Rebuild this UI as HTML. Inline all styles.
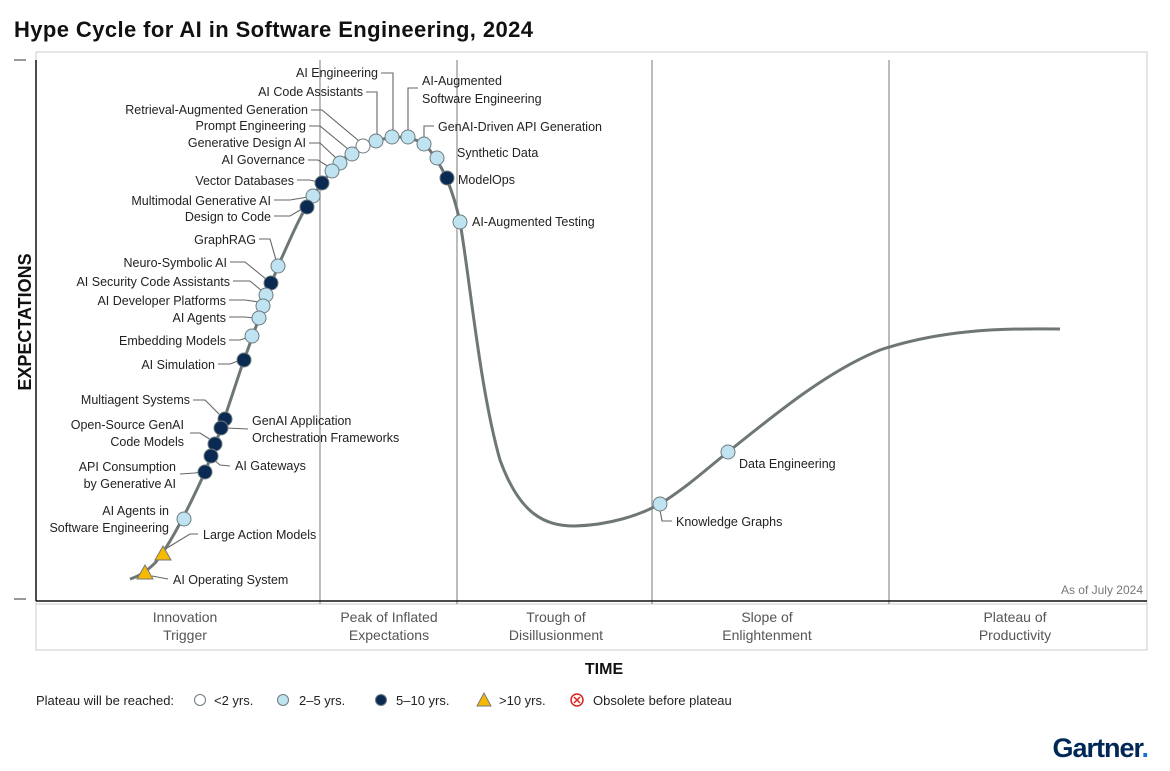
<!DOCTYPE html>
<html><head><meta charset="utf-8"><style>
html,body{margin:0;padding:0;background:#fff;width:1170px;height:771px;overflow:hidden}
svg{display:block}
text{font-family:"Liberation Sans",sans-serif;fill:#222;font-size:12.5px}
.l{fill:#bfe3f1;stroke:#6e7b80;stroke-width:1}
.d{fill:#0b2a52;stroke:#6e7b80;stroke-width:1}
.w{fill:#fff;stroke:#6e7b80;stroke-width:1}
.ld{fill:none;stroke:#666;stroke-width:1.1}
.ph{fill:#555;font-size:14px}
</style></head><body>
<svg width="1170" height="771" viewBox="0 0 1170 771">
<text x="14" y="37" style="font-size:22px;font-weight:bold;fill:#111" textLength="519">Hype Cycle for AI in Software Engineering, 2024</text>
<rect x="36" y="52" width="1111" height="598" fill="none" stroke="#ccc"/>
<line x1="36" y1="604" x2="1147" y2="604" stroke="#ccc"/>
<g stroke="#999" stroke-width="1.3">
<line x1="320" y1="60" x2="320" y2="604"/><line x1="457" y1="60" x2="457" y2="604"/>
<line x1="652" y1="60" x2="652" y2="604"/><line x1="889" y1="60" x2="889" y2="604"/>
</g>
<line x1="36" y1="60" x2="36" y2="601" stroke="#111" stroke-width="1.5"/>
<line x1="36" y1="601" x2="1147" y2="601" stroke="#111" stroke-width="1.5"/>
<line x1="14" y1="60" x2="26" y2="60" stroke="#333"/><line x1="14" y1="599" x2="26" y2="599" stroke="#333"/>
<text transform="translate(31,322) rotate(-90)" text-anchor="middle" style="font-size:18px;font-weight:bold;fill:#111">EXPECTATIONS</text>
<text x="604" y="674" text-anchor="middle" style="font-size:16px;font-weight:bold;fill:#111">TIME</text>
<text class="ph" x="185" y="622" text-anchor="middle">Innovation</text><text class="ph" x="185" y="640" text-anchor="middle">Trigger</text>
<text class="ph" x="389" y="622" text-anchor="middle">Peak of Inflated</text><text class="ph" x="389" y="640" text-anchor="middle">Expectations</text>
<text class="ph" x="556" y="622" text-anchor="middle">Trough of</text><text class="ph" x="556" y="640" text-anchor="middle">Disillusionment</text>
<text class="ph" x="767" y="622" text-anchor="middle">Slope of</text><text class="ph" x="767" y="640" text-anchor="middle">Enlightenment</text>
<text class="ph" x="1015" y="622" text-anchor="middle">Plateau of</text><text class="ph" x="1015" y="640" text-anchor="middle">Productivity</text>
<text x="1143" y="594" text-anchor="end" style="fill:#777;font-size:12px">As of July 2024</text>

<path d="M130,579 C140,576 148,570 155,563 C170,545 190,505 205,472 C225,420 235,385 244,360 C255,330 265,300 278,266 C290,240 300,215 313,196 C330,170 350,148 376,141 C395,135 415,135 428,148 C440,162 452,185 460,222 C470,280 480,390 500,460 C520,515 545,526 575,526 C610,525 640,515 660,504 C690,485 710,466 728,452 C780,410 830,370 880,350 C940,330 1000,328 1060,329" fill="none" stroke="#6e7676" stroke-width="3"/>

<g class="ld">
<polyline points="381,73 393,73 393,131"/>
<polyline points="366,92 377,92 377,135"/>
<polyline points="418,88 408,88 408,131"/>
<polyline points="311,110 322,110 359,141"/>
<polyline points="309,126 320,126 348,149"/>
<polyline points="309,143 320,143 336,158"/>
<polyline points="308,160 318,160 329,167"/>
<polyline points="297,180 310,180 318,182"/>
<polyline points="274,200 290,200 308,197"/>
<polyline points="274,216 290,216 302,209"/>
<polyline points="259,239 270,239 276,260"/>
<polyline points="230,262 245,262 266,279"/>
<polyline points="233,281 250,281 262,291"/>
<polyline points="229,300 245,300 259,302"/>
<polyline points="229,317 245,317 254,318"/>
<polyline points="229,340 240,340 246,338"/>
<polyline points="218,364 230,364 238,361"/>
<polyline points="193,400 205,400 220,415"/>
<polyline points="248,429 226,428"/>
<polyline points="190,433 200,433 211,440"/>
<polyline points="230,466 220,465 214,460"/>
<polyline points="180,474 195,473 200,472"/>
<polyline points="198,534 190,534 167,548"/>
<polyline points="168,579 152,576"/>
<polyline points="434,126 424,126 424,137"/>
<polyline points="660,510 662,521 672,521"/>
</g>

<g>
<circle class="w" cx="363" cy="146" r="7"/>
<circle class="l" cx="376" cy="141" r="7"/>
<circle class="l" cx="392" cy="137" r="7"/>
<circle class="l" cx="408" cy="137" r="7"/>
<circle class="l" cx="424" cy="144" r="7"/>
<circle class="l" cx="437" cy="158" r="7"/>
<circle class="d" cx="447" cy="178" r="7"/>
<circle class="l" cx="460" cy="222" r="7"/>
<circle class="l" cx="352" cy="154" r="7"/>
<circle class="l" cx="340" cy="163" r="7"/>
<circle class="l" cx="332" cy="171" r="7"/>
<circle class="d" cx="322" cy="183" r="7"/>
<circle class="l" cx="313" cy="196" r="7"/>
<circle class="d" cx="307" cy="207" r="7"/>
<circle class="l" cx="278" cy="266" r="7"/>
<circle class="d" cx="271" cy="283" r="7"/>
<circle class="l" cx="266" cy="295" r="7"/>
<circle class="l" cx="263" cy="306" r="7"/>
<circle class="l" cx="259" cy="318" r="7"/>
<circle class="l" cx="252" cy="336" r="7"/>
<circle class="d" cx="244" cy="360" r="7"/>
<circle class="d" cx="225" cy="419" r="7"/>
<circle class="d" cx="221" cy="428" r="7"/>
<circle class="d" cx="215" cy="444" r="7"/>
<circle class="d" cx="211" cy="456" r="7"/>
<circle class="d" cx="205" cy="472" r="7"/>
<circle class="l" cx="184" cy="519" r="7"/>
<circle class="l" cx="660" cy="504" r="7"/>
<circle class="l" cx="728" cy="452" r="7"/>
<polygon points="163,546 171,560 155,560" fill="#f6b900" stroke="#777"/>
<polygon points="145,565 153,579 137,579" fill="#f6b900" stroke="#777"/>
</g>

<g>
<text x="378" y="77" text-anchor="end">AI Engineering</text>
<text x="363" y="96" text-anchor="end">AI Code Assistants</text>
<text x="422" y="85">AI-Augmented</text><text x="422" y="103">Software Engineering</text>
<text x="308" y="114" text-anchor="end">Retrieval-Augmented Generation</text>
<text x="306" y="130" text-anchor="end">Prompt Engineering</text>
<text x="306" y="147" text-anchor="end">Generative Design AI</text>
<text x="305" y="164" text-anchor="end">AI Governance</text>
<text x="294" y="185" text-anchor="end">Vector Databases</text>
<text x="271" y="205" text-anchor="end">Multimodal Generative AI</text>
<text x="271" y="221" text-anchor="end">Design to Code</text>
<text x="256" y="244" text-anchor="end">GraphRAG</text>
<text x="227" y="267" text-anchor="end">Neuro-Symbolic AI</text>
<text x="230" y="286" text-anchor="end">AI Security Code Assistants</text>
<text x="226" y="305" text-anchor="end">AI Developer Platforms</text>
<text x="226" y="322" text-anchor="end">AI Agents</text>
<text x="226" y="345" text-anchor="end">Embedding Models</text>
<text x="215" y="369" text-anchor="end">AI Simulation</text>
<text x="190" y="404" text-anchor="end">Multiagent Systems</text>
<text x="252" y="425">GenAI Application</text><text x="252" y="442">Orchestration Frameworks</text>
<text x="184" y="429" text-anchor="end">Open-Source GenAI</text><text x="184" y="446" text-anchor="end">Code Models</text>
<text x="235" y="470">AI Gateways</text>
<text x="176" y="471" text-anchor="end">API Consumption</text><text x="176" y="488" text-anchor="end">by Generative AI</text>
<text x="169" y="515" text-anchor="end">AI Agents in</text><text x="169" y="532" text-anchor="end">Software Engineering</text>
<text x="203" y="539">Large Action Models</text>
<text x="173" y="584">AI Operating System</text>
<text x="438" y="131">GenAI-Driven API Generation</text>
<text x="457" y="157">Synthetic Data</text>
<text x="458" y="184">ModelOps</text>
<text x="472" y="226">AI-Augmented Testing</text>
<text x="739" y="468">Data Engineering</text>
<text x="676" y="526">Knowledge Graphs</text>
</g>

<g>
<text x="36" y="705" style="font-size:13px">Plateau will be reached:</text>
<circle class="w" cx="200" cy="700" r="5.5"/><text x="214" y="705" style="font-size:13px">&lt;2 yrs.</text>
<circle class="l" cx="283" cy="700" r="5.5"/><text x="299" y="705" style="font-size:13px">2–5 yrs.</text>
<circle class="d" cx="381" cy="700" r="5.5"/><text x="396" y="705" style="font-size:13px">5–10 yrs.</text>
<polygon points="484,693 491,706 477,706" fill="#f6b900" stroke="#777"/><text x="499" y="705" style="font-size:13px">&gt;10 yrs.</text>
<circle cx="577" cy="700" r="6" fill="#fff" stroke="#d22" stroke-width="1.5"/>
<path d="M574,697 L580,703 M580,697 L574,703" stroke="#d22" stroke-width="1.5"/>
<text x="593" y="705" style="font-size:13px">Obsolete before plateau</text>
</g>
<text x="1148" y="757" text-anchor="end" style="font-size:27px;font-weight:bold;fill:#002856;letter-spacing:-1px">Gartner<tspan style="fill:#1a6fd6">.</tspan></text>
</svg>
</body></html>
